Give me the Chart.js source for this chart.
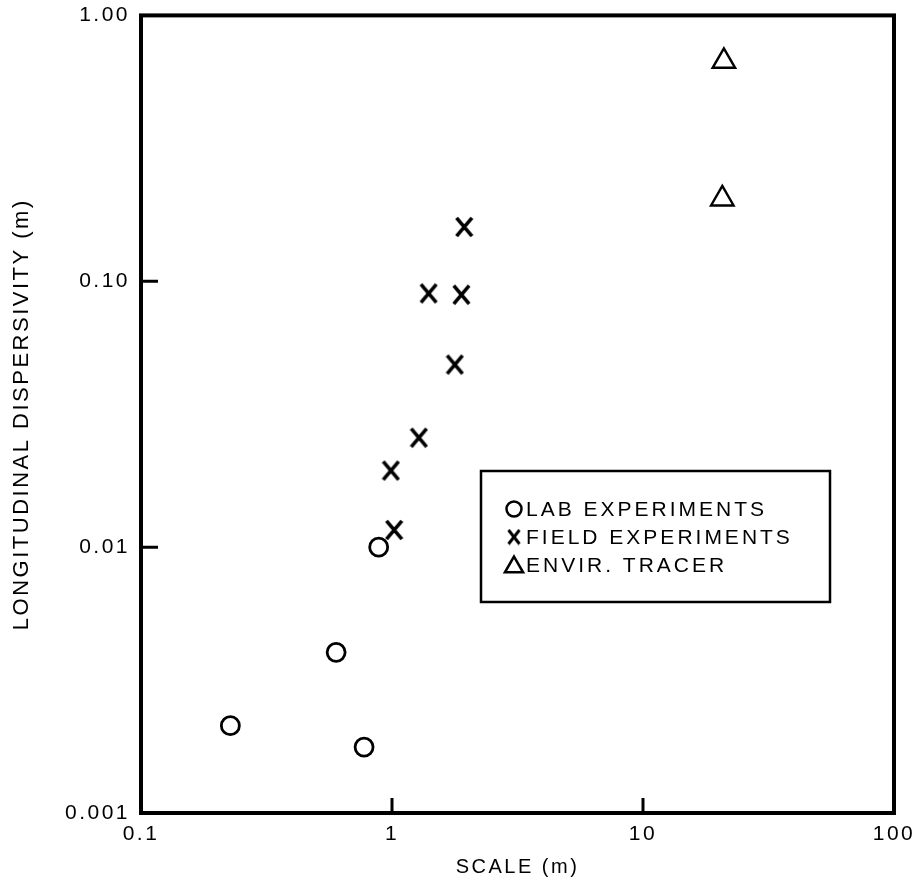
<!DOCTYPE html>
<html>
<head>
<meta charset="utf-8">
<script src="https://cdn.jsdelivr.net/npm/chart.js@4/dist/chart.umd.min.js"></script>
<style>
  html, body { margin: 0; padding: 0; background: #fff; }
  #wrap { width: 920px; height: 886px; position: relative; }
</style>
</head>
<body>
<div id="wrap"><canvas id="c"></canvas></div>
<script>
// Longitudinal dispersivity versus scale of observation (log-log)
const labScale = [0.227, 0.599, 0.774, 0.885];
const labDisp  = [0.00213, 0.00402, 0.00177, 0.0100];

const fieldScale = [1.02, 0.99, 1.28, 1.78, 1.40, 1.89, 1.94];
const fieldDisp  = [0.0116, 0.0194, 0.0258, 0.0486, 0.090, 0.089, 0.160];

const tracerScale = [21.0, 20.7];
const tracerDisp  = [0.672, 0.204];

const xTickValues = [0.1, 1, 10, 100];
const xTickLabels = ['0.1', '1', '10', '100'];
const yTickValues = [0.001, 0.01, 0.1, 1];
const yTickLabels = ['0.001', '0.01', '0.10', '1.00'];

const seriesNames = ['LAB EXPERIMENTS', 'FIELD EXPERIMENTS', 'ENVIR. TRACER'];

const INK = '#000';
const FONT = "'Liberation Sans', Arial, Helvetica, sans-serif";

// Letter "X" glyph used as a point style
function makeX(w, h, lw) {
  const cv = document.createElement('canvas');
  cv.width = w; cv.height = h;
  const g = cv.getContext('2d');
  g.strokeStyle = INK;
  g.lineWidth = lw;
  g.lineCap = 'butt';
  const p = lw / 2;
  g.beginPath();
  g.moveTo(p, p); g.lineTo(w - p, h - p);
  g.moveTo(w - p, p); g.lineTo(p, h - p);
  g.stroke();
  return cv;
}
const xMark = makeX(19, 22, 3.6);
const xMarkSmall = makeX(14, 17, 3);

const toPoints = (xs, ys) => xs.map((x, i) => ({ x: x, y: ys[i] }));

// Frame around the plot and inward tick marks
const framePlugin = {
  id: 'frame',
  beforeDraw(chart) {
    chart.ctx.letterSpacing = '2.5px';
  },
  afterDraw(chart) {
    const { ctx, chartArea: a, scales } = chart;
    ctx.save();
    ctx.strokeStyle = INK;
    ctx.lineWidth = 4;
    ctx.strokeRect(a.left, a.top, a.right - a.left, a.bottom - a.top);
    ctx.lineWidth = 3;
    ctx.beginPath();
    xTickValues.forEach(v => {
      const px = scales.x.getPixelForValue(v);
      if (px > a.left + 3 && px < a.right - 3) {
        ctx.moveTo(px, a.bottom);
        ctx.lineTo(px, a.bottom - 15);
      }
    });
    yTickValues.forEach(v => {
      const py = scales.y.getPixelForValue(v);
      if (py > a.top + 3 && py < a.bottom - 3) {
        ctx.moveTo(a.left, py);
        ctx.lineTo(a.left + 17, py);
      }
    });
    ctx.stroke();
    ctx.restore();
  }
};

// Boxed key inside the plot area
const keyPlugin = {
  id: 'key',
  afterDraw(chart) {
    const ctx = chart.ctx;
    const box = { x: 481, y: 471, w: 349, h: 131 };
    ctx.save();
    ctx.strokeStyle = INK;
    ctx.lineWidth = 2.5;
    ctx.strokeRect(box.x, box.y, box.w, box.h);
    ctx.font = '21px ' + FONT;
    ctx.letterSpacing = '3px';
    ctx.fillStyle = INK;
    ctx.textBaseline = 'middle';
    ctx.textAlign = 'left';
    const rowY = [509, 537, 565];
    const keyStyles = [
      { pointStyle: 'circle', radius: 7.5, borderWidth: 2.4 },
      { pointStyle: xMarkSmall, radius: 8, borderWidth: 0 },
      { pointStyle: 'triangle', radius: 10.5, borderWidth: 2.2 }
    ];
    chart.data.datasets.forEach((ds, i) => {
      const y = rowY[i];
      ctx.save();
      ctx.strokeStyle = INK;
      ctx.fillStyle = 'rgba(0,0,0,0)';
      Chart.helpers.drawPoint(ctx, Object.assign({ rotation: 0 }, keyStyles[i]), 514, y + (i === 2 ? 2 : 0));
      ctx.restore();
      ctx.fillText(ds.label, 526, y + 1);
    });
    ctx.restore();
  }
};

const chart = new Chart(document.getElementById('c'), {
  type: 'scatter',
  data: {
    datasets: [
      {
        label: seriesNames[0],
        data: toPoints(labScale, labDisp),
        pointStyle: 'circle',
        pointRadius: 9,
        pointBorderWidth: 2.8,
        borderColor: INK,
        backgroundColor: 'rgba(0,0,0,0)'
      },
      {
        label: seriesNames[1],
        data: toPoints(fieldScale, fieldDisp),
        pointStyle: xMark,
        pointRadius: 11,
        pointBorderWidth: 0,
        borderColor: INK,
        backgroundColor: 'rgba(0,0,0,0)'
      },
      {
        label: seriesNames[2],
        data: toPoints(tracerScale, tracerDisp),
        pointStyle: 'triangle',
        pointRadius: 13,
        pointBorderWidth: 2.4,
        borderColor: INK,
        backgroundColor: 'rgba(0,0,0,0)'
      }
    ]
  },
  options: {
    responsive: true,
    maintainAspectRatio: false,
    animation: false,
    events: [],
    layout: { padding: { left: 0, top: 15, right: 26, bottom: 0 } },
    plugins: {
      legend: { display: false },
      tooltip: { enabled: false },
      title: { display: false }
    },
    scales: {
      x: {
        type: 'logarithmic',
        min: 0.1,
        max: 100,
        grid: { display: false, drawTicks: false },
        border: { display: false },
        afterBuildTicks(scale) {
          scale.ticks = xTickValues.map(v => ({ value: v }));
        },
        afterFit(scale) {
          scale.height = 73;
          scale.paddingLeft = 0;
          scale.paddingRight = 0;
        },
        ticks: {
          autoSkip: false,
          maxRotation: 0,
          padding: 9,
          color: INK,
          font: { family: FONT, size: 21 },
          callback(value) {
            const i = xTickValues.indexOf(value);
            return i >= 0 ? xTickLabels[i] : '';
          }
        },
        title: {
          display: true,
          text: 'SCALE (m)',
          color: INK,
          font: { family: FONT, size: 20 },
          padding: { top: 0, bottom: 7 }
        }
      },
      y: {
        type: 'logarithmic',
        min: 0.001,
        max: 1,
        grid: { display: false, drawTicks: false },
        border: { display: false },
        afterBuildTicks(scale) {
          scale.ticks = yTickValues.map(v => ({ value: v }));
        },
        afterFit(scale) {
          scale.width = 141;
          scale.paddingTop = 0;
          scale.paddingBottom = 0;
        },
        ticks: {
          autoSkip: false,
          padding: 11,
          color: INK,
          font: { family: FONT, size: 21 },
          callback(value) {
            const i = yTickValues.indexOf(value);
            return i >= 0 ? yTickLabels[i] : '';
          }
        },
        title: {
          display: true,
          text: 'LONGITUDINAL DISPERSIVITY (m)',
          color: INK,
          font: { family: FONT, size: 22 },
          padding: { top: 9, bottom: 0 }
        }
      }
    }
  },
  plugins: [framePlugin, keyPlugin]
});
</script>
</body>
</html>
